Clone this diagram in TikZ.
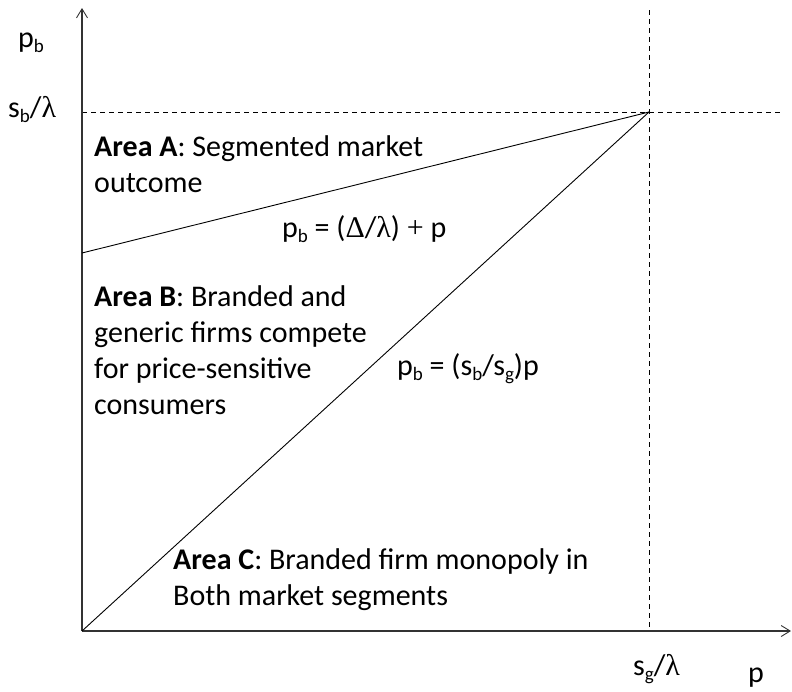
\documentclass[tikz,border=0pt]{standalone}
\usepackage{fontspec}
\setmainfont{Carlito}
\newfontfamily\symf{Liberation Serif}
\usetikzlibrary{arrows.meta}
\newcommand\lsub[1]{\raisebox{-0.17em}{\fontsize{19}{19}\selectfont #1}}
\newcommand\gr[1]{{\symf #1}}
\tikzset{
  axis/.style={line width=1.1pt, draw=black!80, -{Straight Barb[length=9pt,width=11pt,line width=0.9pt]}},
  guide/.style={line width=0.9pt, dash pattern=on 5pt off 4pt},
  curve/.style={line width=0.9pt},
  lbl/.style={inner sep=0pt, anchor=base west, font=\fontsize{30}{36}\selectfont}
}
\begin{document}
\begin{tikzpicture}[x=1pt,y=-1pt]
\useasboundingbox (0,0) rectangle (792,691);
\coordinate (O) at (82,631);
\coordinate (Ytop) at (82,8);
\coordinate (Xend) at (791,631);
\coordinate (K) at (649,112);
\coordinate (A0) at (82,253);
\coordinate (Vtop) at (649,10);
\coordinate (Hend) at (782,112);
\coordinate (Hstart) at (82,112);
\draw[guide] (Vtop) -- (O -| K);
\draw[guide] (Hstart) -- (Hend);
\draw[axis] (O) -- (Ytop);
\draw[axis] (O) -- (Xend);
\draw[curve] (A0) -- (K);
\draw[curve] (O) -- (K);
\node[lbl] (pb) at (18,47) {p\lsub{b}};
\node[lbl] (sbl) at (8,117) {s\lsub{b}/\gr{λ}};
\node[lbl] (sgl) at (633,675) {s\lsub{g}/\gr{λ}};
\node[lbl] (p) at (748,682) {p};
\node[lbl] (f1) at (282,237) {p\lsub{b} = (\gr{Δ}/\gr{λ}) \gr{+} p};
\node[lbl] (f2) at (397,375) {p\lsub{b} = (s\lsub{b}/s\lsub{g})p};
\node[lbl, align=left] (aA) at (94,192) {\textbf{Area A}: Segmented market\\outcome};
\node[lbl, align=left] (aB) at (94,414) {\textbf{Area B}: Branded and\\generic firms compete\\for price-sensitive\\consumers};
\node[lbl, align=left] (aC) at (173,605) {\textbf{Area C}: Branded firm monopoly in\\Both market segments};
\end{tikzpicture}
\end{document}
